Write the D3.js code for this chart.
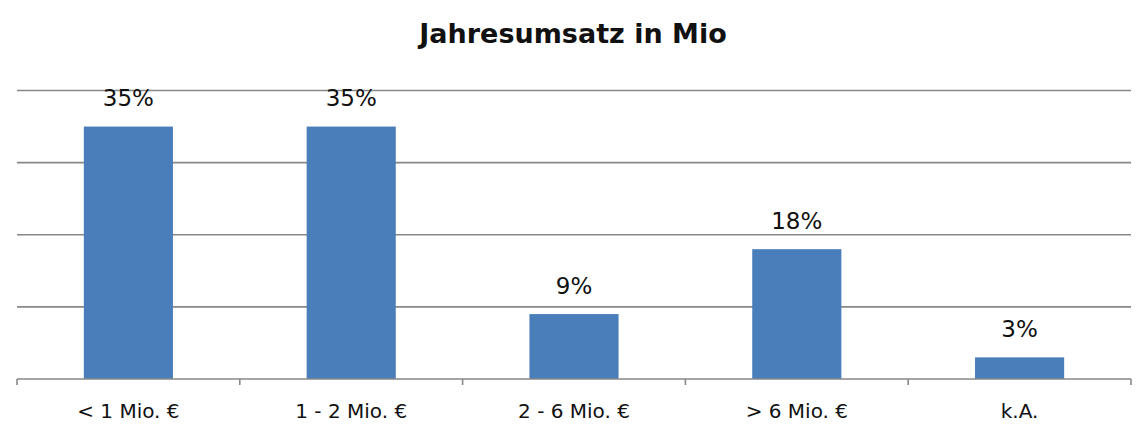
<!DOCTYPE html>
<html><head><meta charset="utf-8">
<script src="https://cdn.jsdelivr.net/npm/d3@7"></script>
<style>body{margin:0;background:#fff}svg{display:block}</style>
</head><body>
<svg id="c" width="1144" height="442"></svg>
<script>
const categories = ["< 1 Mio. €", "1 - 2 Mio. €", "2 - 6 Mio. €", "> 6 Mio. €", "k.A."];
const values = [35, 35, 9, 18, 3];
const valueLabels = ["35%", "35%", "9%", "18%", "3%"];
const yTicks = [0, 10, 20, 30, 40];
const title = "Jahresumsatz in Mio";

const svg = d3.select("#c");
const m = {left: 17, right: 1131, top: 90.5, bottom: 379};
const x = d3.scaleBand().domain(categories).range([m.left, m.right]).paddingInner(0.6).paddingOuter(0.3);
const y = d3.scaleLinear().domain([0, 40]).range([m.bottom, m.top]);
const font = "'DejaVu Sans', Verdana, sans-serif";

svg.append("text").attr("x", 573).attr("y", 43).attr("text-anchor", "middle")
  .attr("font-family", font).attr("font-weight", "bold").attr("font-size", 27).attr("fill", "#111")
  .text(title);

svg.append("g").selectAll("line").data(yTicks.filter(d => d > 0)).join("line")
  .attr("x1", m.left).attr("x2", m.right).attr("y1", d => y(d)).attr("y2", d => y(d))
  .attr("stroke", "#888").attr("stroke-width", 1.6);

svg.append("g").selectAll("rect").data(values).join("rect")
  .attr("x", (d, i) => x(categories[i])).attr("width", x.bandwidth())
  .attr("y", d => y(d)).attr("height", d => y(0) - y(d))
  .attr("fill", "#4a7ebb");

// x axis
const xa = svg.append("g").attr("transform", `translate(0,${m.bottom})`);
xa.append("line").attr("x1", m.left).attr("x2", m.right).attr("stroke", "#888").attr("stroke-width", 1.6);
const step = (m.right - m.left) / categories.length;
xa.selectAll("line.t").data(d3.range(categories.length + 1)).join("line").attr("class", "t")
  .attr("x1", i => m.left + i * step).attr("x2", i => m.left + i * step)
  .attr("y1", 0).attr("y2", 6).attr("stroke", "#888").attr("stroke-width", 1.6);
xa.selectAll("text").data(categories).join("text")
  .attr("x", d => x(d) + x.bandwidth() / 2).attr("y", 39).attr("text-anchor", "middle")
  .attr("font-family", font).attr("font-size", 20).attr("fill", "#111").text(d => d);

svg.append("g").selectAll("text").data(values).join("text")
  .attr("x", (d, i) => x(categories[i]) + x.bandwidth() / 2).attr("y", d => y(d) - 20.5)
  .attr("text-anchor", "middle").attr("font-family", font).attr("font-size", 23).attr("fill", "#111")
  .text((d, i) => valueLabels[i]);
</script>
</body></html>
